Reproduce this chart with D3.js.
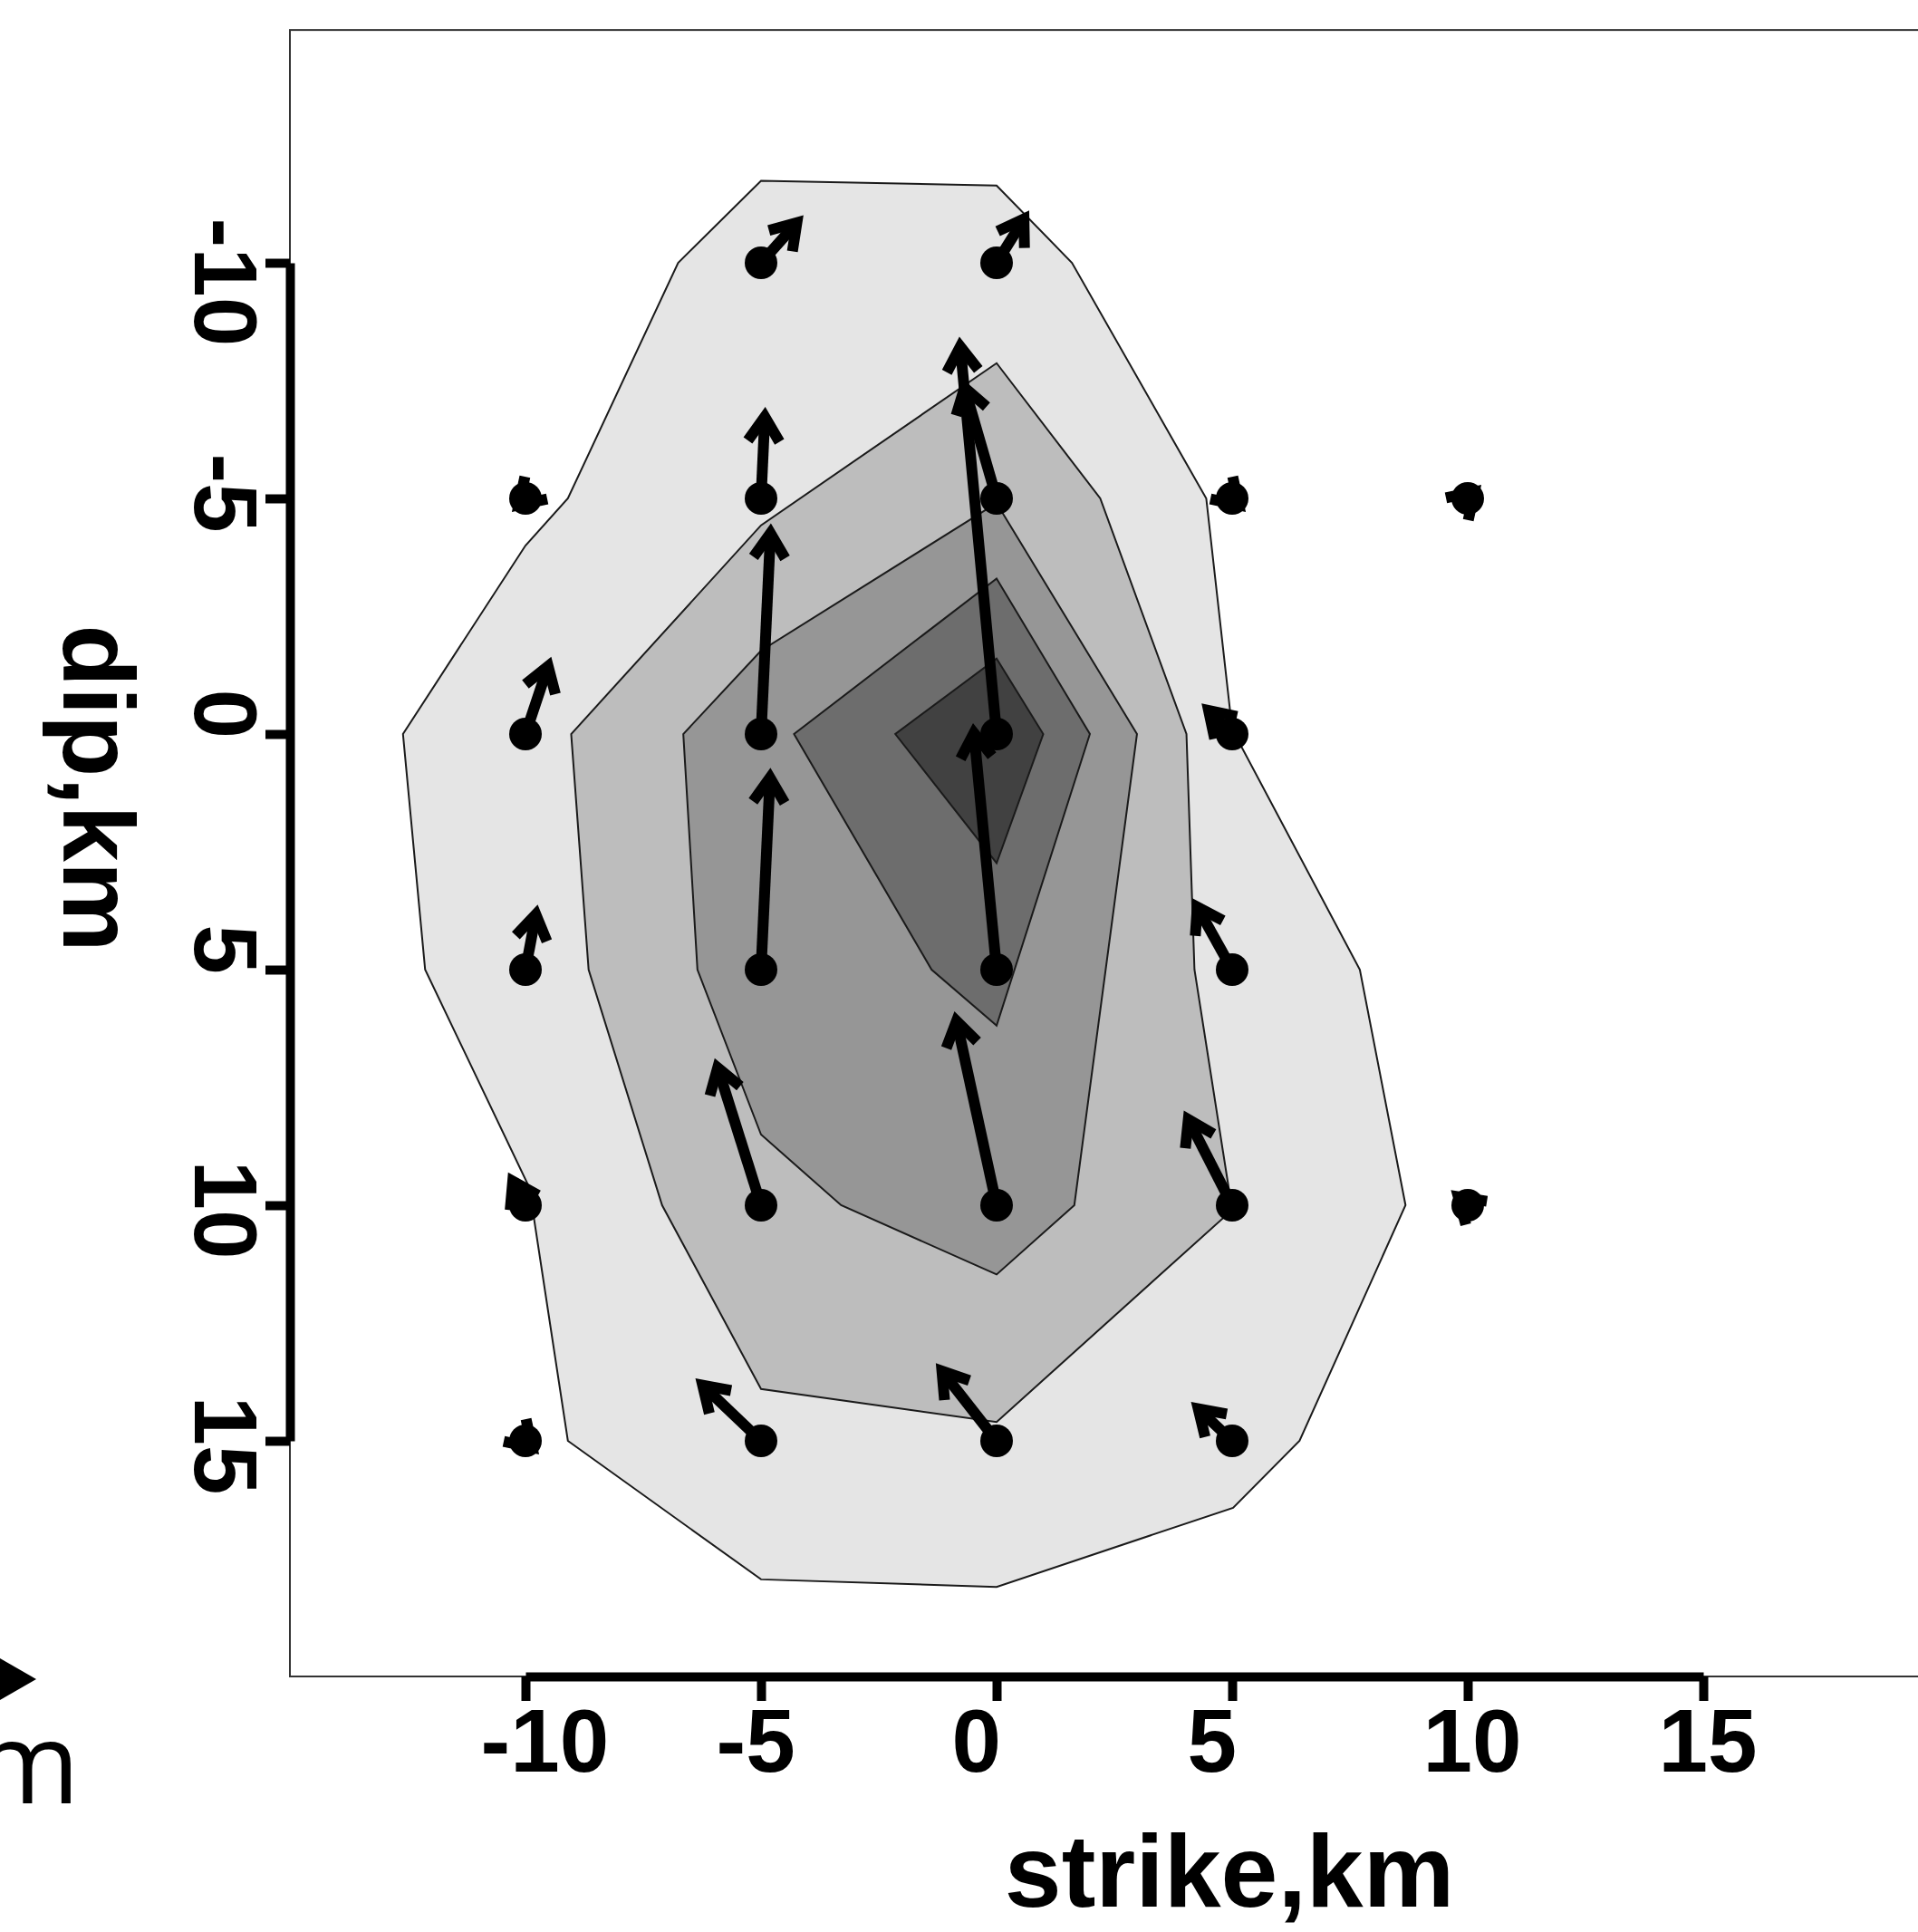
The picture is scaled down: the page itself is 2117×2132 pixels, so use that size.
<!DOCTYPE html>
<html>
<head>
<meta charset="utf-8">
<script src="https://cdn.jsdelivr.net/npm/d3@7"></script>
<style>
  html, body { margin: 0; padding: 0; background: #ffffff; overflow: hidden; }
  svg { display: block; }
</style>
</head>
<body>
<svg id="chart" width="2117" height="2132"></svg>
<script>
// Stations on the fault plane (km along strike, km down dip)
const stationStrike = [-5, 0, -10, -5, 0, 5, 10, -10, -5, 0, 5, -10, -5, 0, 5, -10, -5, 0, 5, 10, -10, -5, 0, 5];
const stationDip    = [-10, -10, -5, -5, -5, -5, -5, 0, 0, 0, 0, 5, 5, 5, 5, 10, 10, 10, 10, 10, 15, 15, 15, 15];

// Slip vector components at each station (strike, dip), km-scaled for display
const slipStrike = [0.76, 0.58, -0.14, 0.08, -0.68, 0.14, 0.14, 0.48, 0.20, -0.77, -0.50, 0.22, 0.19, -0.48, -0.74, -0.27, -0.92, -0.85, -0.93, -0.20, 0.14, -1.24, -1.16, -0.72];
const slipDip    = [-0.85, -0.93, 0.14, -1.73, -2.35, 0.14, -0.14, -1.44, -4.26, -8.22, -0.50, -1.17, -4.07, -5.02, -1.33, -0.51, -2.92, -3.91, -1.82, -0.18, 0.14, -1.18, -1.48, -0.68];

// Slip-amplitude contour bands, outermost first (strike, dip vertices)
const band1 = [[-5.0, -11.74], [0.0, -11.64], [1.6, -10.0], [4.45, -5.0], [5.0, -0.1], [7.71, 5.0], [8.68, 10.0], [6.43, 15.0], [5.02, 16.42], [0.0, 18.1], [-5.0, 17.94], [-9.1, 15.0], [-9.92, 9.62], [-12.13, 5.0], [-12.6, 0.0], [-10.0, -4.0], [-9.1, -5.0], [-6.76, -10.0]];
const band2 = [[0.0, -7.87], [2.2, -5.0], [4.03, 0.0], [4.2, 5.0], [5.0, 10.1], [0.0, 14.6], [-5.0, 13.9], [-7.1, 10.0], [-8.66, 5.0], [-9.03, 0.0], [-5.0, -4.43]];
const band3 = [[0.0, -4.9], [2.98, 0.0], [1.65, 10.0], [0.0, 11.47], [-3.3, 10.0], [-5.0, 8.5], [-6.35, 5.0], [-6.65, 0.0], [-5.0, -1.77]];
const band4 = [[0.0, -3.3], [1.98, 0.0], [0.0, 6.19], [-1.38, 5.0], [-4.3, 0.0]];
const band5 = [[0.0, -1.6], [0.99, 0.0], [0.0, 2.74], [-2.15, 0.0]];
const bandFills = ["#e5e5e5", "#bdbdbd", "#969696", "#6d6d6d", "#414141"];

// Axis ticks
const xTicks = [-10, -5, 0, 5, 10, 15];
const xTickLabels = ["-10", "-5", "0", "5", "10", "15"];
const yTicks = [-10, -5, 0, 5, 10, 15];
const yTickLabels = ["-10", "-5", "0", "5", "10", "15"];

const svg = d3.select("#chart");

const x = d3.scaleLinear().domain([-15, 20]).range([320, 2140]);
const y = d3.scaleLinear().domain([-15, 20]).range([30, 1850]);

// Plot box
svg.append("rect")
  .attr("x", x(-15)).attr("y", y(-14.94))
  .attr("width", x(20) - x(-15)).attr("height", y(20) - y(-14.94))
  .attr("fill", "none").attr("stroke", "#333").attr("stroke-width", 2);

// Filled contour bands
const line = d3.line().x(d => x(d[0])).y(d => y(d[1])).curve(d3.curveLinearClosed);
[band1, band2, band3, band4, band5].forEach((b, i) => {
  svg.append("path")
    .attr("d", line(b))
    .attr("fill", bandFills[i])
    .attr("stroke", "#1a1a1a")
    .attr("stroke-width", 2)
    .attr("stroke-linejoin", "miter");
});

// Slip arrows
const headLen = 32, headAng = 33 * Math.PI / 180;
const arrows = svg.append("g").attr("stroke", "#000").attr("fill", "none")
  .attr("stroke-width", 12).attr("stroke-linecap", "butt").attr("stroke-linejoin", "miter")
  .attr("stroke-miterlimit", 10);
stationStrike.forEach((s, i) => {
  const x0 = x(s), y0 = y(stationDip[i]);
  const x1 = x(s + slipStrike[i]), y1 = y(stationDip[i] + slipDip[i]);
  const a = Math.atan2(y1 - y0, x1 - x0);
  arrows.append("line").attr("x1", x0).attr("y1", y0).attr("x2", x1).attr("y2", y1);
  const b1 = [x1 - headLen * Math.cos(a - headAng), y1 - headLen * Math.sin(a - headAng)];
  const b2 = [x1 - headLen * Math.cos(a + headAng), y1 - headLen * Math.sin(a + headAng)];
  arrows.append("path").attr("d", `M${b1[0]},${b1[1]}L${x1},${y1}L${b2[0]},${b2[1]}`);
});

// Station markers
svg.append("g").selectAll("circle")
  .data(stationStrike)
  .join("circle")
  .attr("cx", d => x(d))
  .attr("cy", (d, i) => y(stationDip[i]))
  .attr("r", 18)
  .attr("fill", "#000");

// Axes
const tickFont = "'Liberation Sans', Arial, Helvetica, sans-serif";
const xAxisScale = x.copy().domain([-10, 15]).range([x(-10), x(15)]);
const gx = svg.append("g")
  .attr("transform", `translate(0,${y(20)})`)
  .call(d3.axisBottom(xAxisScale).tickValues(xTicks)
    .tickFormat((d, i) => xTickLabels[i]).tickSize(27).tickSizeOuter(0));
gx.select(".domain").attr("stroke", "#000").attr("stroke-width", 10);
gx.selectAll(".tick line").attr("stroke", "#000").attr("stroke-width", 10);
gx.selectAll(".tick text")
  .attr("fill", "#000")
  .attr("x", -50).attr("y", 105).attr("dy", null)
  .attr("text-anchor", "start")
  .style("font-family", tickFont).style("font-weight", "bold").style("font-size", "98px");

const yAxisScale = y.copy().domain([-10, 15]).range([y(-10), y(15)]);
const gy = svg.append("g")
  .attr("transform", `translate(${x(-15)},0)`)
  .call(d3.axisLeft(yAxisScale).tickValues(yTicks)
    .tickFormat((d, i) => yTickLabels[i]).tickSize(27).tickSizeOuter(0));
gy.select(".domain").attr("stroke", "#000").attr("stroke-width", 10);
gy.selectAll(".tick line").attr("stroke", "#000").attr("stroke-width", 10);
gy.selectAll(".tick text")
  .attr("fill", "#000")
  .attr("x", 0).attr("y", 0).attr("dy", null)
  .attr("text-anchor", "start")
  .attr("transform", "translate(-105,-50) rotate(90)")
  .style("font-family", tickFont).style("font-weight", "bold").style("font-size", "98px");

// Axis titles
svg.append("text")
  .attr("x", 1357).attr("y", 2104)
  .attr("text-anchor", "middle")
  .style("font-family", tickFont).style("font-weight", "bold").style("font-size", "113px")
  .text("strike,km");

svg.append("text")
  .attr("transform", "translate(70,870) rotate(90)")
  .attr("text-anchor", "middle")
  .style("font-family", tickFont).style("font-weight", "bold").style("font-size", "112px")
  .text("dip,km");

// Scale arrow (partly outside the page edge)
svg.append("line")
  .attr("x1", -300).attr("y1", 1853).attr("x2", 0).attr("y2", 1853)
  .attr("stroke", "#000").attr("stroke-width", 6);
svg.append("path")
  .attr("d", "M40,1853L-30,1812.6L-30,1893.4Z")
  .attr("fill", "#000");
svg.append("text")
  .attr("x", 88).attr("y", 1990)
  .attr("text-anchor", "end")
  .style("font-family", "'Open Sans', sans-serif").style("font-size", "125px")
  .text("m");
</script>
</body>
</html>
